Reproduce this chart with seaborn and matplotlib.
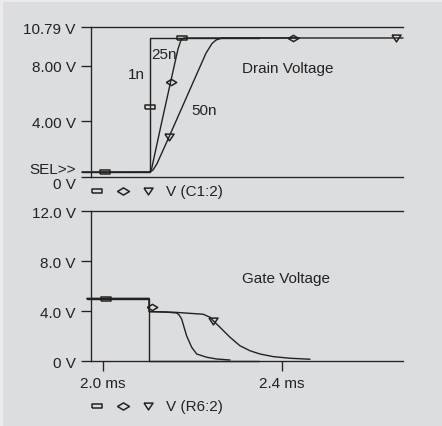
import numpy as np
import pandas as pd
import matplotlib
matplotlib.use("Agg")
import matplotlib.pyplot as plt
from matplotlib.patches import Rectangle
from matplotlib.lines import Line2D
import seaborn as sns

# ---- data (time in ms, voltage in V) ----
# Drain voltage (V(C1:2)), three gate-drive cases
t_drain_1n = [1.954, 2.105, 2.105, 2.35]
v_drain_1n = [0.35, 0.35, 10.0, 10.0]
t_drain_25n = [1.954, 2.105, 2.1095, 2.1303, 2.152, 2.1683, 2.175, 2.1817, 2.44]
v_drain_25n = [0.35, 0.35, 0.6, 3.7, 6.86, 9.2, 9.85, 10.0, 10.0]
t_drain_50n = [1.954, 2.1057, 2.1124, 2.1213, 2.148, 2.1951, 2.2308, 2.2443, 2.2532, 2.2666, 2.671]
v_drain_50n = [0.35, 0.36, 0.5, 0.95, 2.86, 6.3, 8.9, 9.6, 9.85, 10.0, 10.0]

# Gate voltage (V(R6:2))
t_gate_1n = [1.965, 2.104, 2.104, 2.35]
v_gate_1n = [5.0, 5.0, 0.0, 0.0]
t_gate_25n = [1.965, 2.104, 2.104, 2.14, 2.1654, 2.1705, 2.1765, 2.1877, 2.1989, 2.2101, 2.2324, 2.2547, 2.2845]
v_gate_25n = [5.0, 5.0, 3.95, 3.92, 3.84, 3.7, 3.36, 2.0, 1.1, 0.56, 0.3, 0.16, 0.08]
t_gate_50n = [1.965, 2.104, 2.104, 2.16, 2.2248, 2.2398, 2.2472, 2.2621, 2.2845, 2.3068,
              2.3292, 2.3515, 2.3812, 2.4186, 2.4633]
v_gate_50n = [5.0, 5.0, 3.95, 3.9, 3.74, 3.5, 3.22, 2.7, 1.9, 1.22, 0.82, 0.56, 0.35, 0.22, 0.14]

# marker positions (PSpice trace symbols)
drain_sq_t, drain_sq_v = [2.005, 2.105, 2.178], [0.35, 5.0, 10.0]
drain_di_t, drain_di_v = [2.152, 2.4246], [6.86, 10.0]
drain_tr_t, drain_tr_v = [2.148, 2.655], [2.86, 10.0]
gate_sq_t, gate_sq_v = [2.0067], [5.0]
gate_di_t, gate_di_v = [2.1095], [4.3]
gate_tr_t, gate_tr_v = [2.2472], [3.22]

drain_yticks = [0, 4, 8, 10.79]
drain_ylabels = ["0 V", "4.00 V", "8.00 V", "10.79 V"]
gate_yticks = [0, 4, 8, 12]
gate_ylabels = ["0 V", "4.0 V", "8.0 V", "12.0 V"]
xticks = [2.0, 2.4]
xlabels = ["2.0 ms", "2.4 ms"]

BG = "#dcdddf"
INK = "#222222"

sns.set_theme(style="white", rc={
    "axes.facecolor": BG,
    "figure.facecolor": "#ebebec",
    "axes.edgecolor": INK,
    "axes.linewidth": 0.95,
    "xtick.color": INK,
    "ytick.color": INK,
    "text.color": INK,
})
plt.rcParams["font.family"] = ["Liberation Sans", "DejaVu Sans"]
plt.rcParams["font.size"] = 11

W, H = 442, 427
fig = plt.figure(figsize=(W / 100, H / 100), dpi=100)
fig.add_artist(Rectangle((3 / W, 0), 1, 1 - 3 / H, transform=fig.transFigure,
                         facecolor=BG, edgecolor="none", zorder=0))


def px_axes(left, top, right, bottom):
    return fig.add_axes([left / W, 1 - bottom / H, (right - left) / W, (bottom - top) / H])


ax1 = px_axes(91, 28, 403, 178)
ax2 = px_axes(91, 212, 403, 362)

sq = [(-1, -0.4), (1, -0.4), (1, 0.4), (-1, 0.4), (-1, -0.4)]
di = [(-1, 0), (0, 0.6), (1, 0), (0, -0.6), (-1, 0)]
tr = [(-1, 0.75), (1, 0.75), (0, -0.75), (-1, 0.75)]
mk = dict(ls="none", mfc="none", mec=INK, mew=1.1, clip_on=False, zorder=5)


def traces(ax, series):
    for t, v in series:
        df = pd.DataFrame({"t": t, "v": v})
        sns.lineplot(data=df, x="t", y="v", ax=ax, estimator=None, sort=False,
                     color=INK, lw=1.0, legend=False)
    for ln in ax.lines:
        ln.set_clip_on(False)


traces(ax1, [(t_drain_1n, v_drain_1n), (t_drain_25n, v_drain_25n), (t_drain_50n, v_drain_50n)])
ax1.plot(drain_sq_t, drain_sq_v, marker=sq, ms=7.9, **mk)
ax1.plot(drain_di_t, drain_di_v, marker=di, ms=7.5, **mk)
ax1.plot(drain_tr_t, drain_tr_v, marker=tr, ms=6.5, **mk)

traces(ax2, [(t_gate_1n, v_gate_1n), (t_gate_25n, v_gate_25n), (t_gate_50n, v_gate_50n)])
ax2.plot(gate_sq_t, gate_sq_v, marker=sq, ms=7.9, **mk)
ax2.plot(gate_di_t, gate_di_v, marker=di, ms=7.5, **mk)
ax2.plot(gate_tr_t, gate_tr_v, marker=tr, ms=6.5, **mk)

for ax in (ax1, ax2):
    ax.set_xlim(1.974, 2.671)
    ax.set_xlabel("")
    ax.set_ylabel("")
    ax.spines["right"].set_visible(False)
    ax.tick_params(axis="y", direction="out", length=7.2, width=0.95, pad=3.8, left=True, labelsize=11)
    ax.tick_params(axis="x", direction="out", length=7.2, width=0.95, pad=3.5, bottom=True, labelsize=11)

ax1.set_ylim(0, 10.79)
ax1.set_yticks(drain_yticks, drain_ylabels)
ax1.get_yticklabels()[0].set_va("top")
ax1.set_xticks([])
ax1.text(-0.049, 0.58, "SEL>>", transform=ax1.get_yaxis_transform(), ha="right", va="center")

ax2.set_ylim(0, 12)
ax2.set_yticks(gate_yticks, gate_ylabels)
ax2.set_xticks(xticks, xlabels)

# annotations
ax1.text(2.3113, 7.84, "Drain Voltage", ha="left", va="center")
ax1.text(2.0566, 7.41, "1n", ha="left", va="center")
ax1.text(2.108, 8.85, "25n", ha="left", va="center")
ax1.text(2.1989, 4.82, "50n", ha="left", va="center")
ax2.text(2.3113, 6.64, "Gate Voltage", ha="left", va="center")

# trace legends below each plot
for y_px, name in [(191.7, "V (C1:2)"), (407.3, "V (R6:2)")]:
    yf = 1 - y_px / H
    for x_px, m, s in [(97, sq, 7.9), (123, di, 8.6), (148, tr, 6.5)]:
        fig.add_artist(Line2D([x_px / W], [yf], marker=m, markersize=s, ls="none",
                              mfc="none", mec=INK, mew=1.1, transform=fig.transFigure))
    fig.text(166 / W, yf, name, ha="left", va="center", fontsize=11)

fig.savefig("out.png", dpi=100)
